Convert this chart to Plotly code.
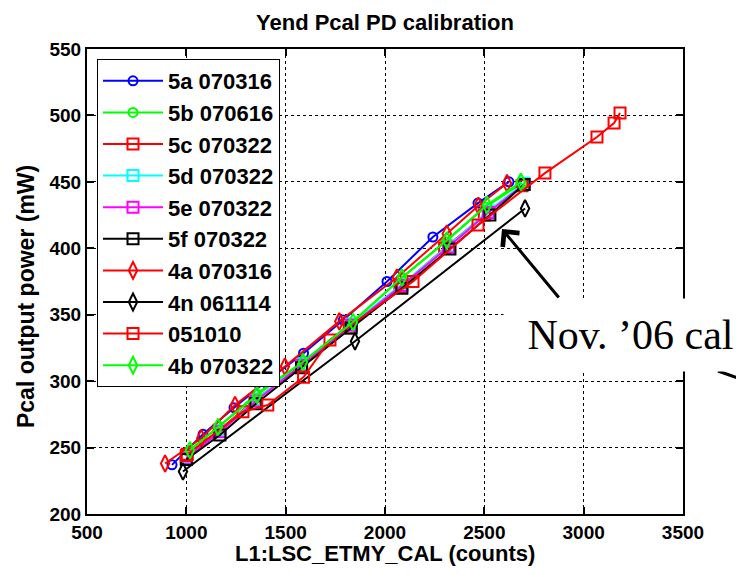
import plotly.graph_objects as go

# ---- data ----
names = ["5a 070316", "5b 070616", "5c 070322", "5d 070322", "5e 070322",
         "5f 070322", "4a 070316", "4n 061114", "051010", "4b 070322"]

x_5a = [928, 1084, 1240, 1370, 1590, 1790, 2010, 2241, 2468, 2624]
y_5a = [237, 260, 280, 296, 321, 346, 375, 408.5, 434, 450]

x_5b = [1010, 1165, 1350, 1590, 1830, 2080, 2305, 2505, 2690]
y_5b = [247, 266, 290, 315, 344, 377, 405, 431, 449]

x_5c = [1005, 1165, 1345, 1580, 1820, 2075, 2300, 2500, 2690]
y_5c = [245, 263, 286, 311, 340, 371, 400, 425, 447]

x_5d = [1000, 1170, 1350, 1580, 1830, 2085, 2320, 2520, 2700]
y_5d = [243, 263, 286, 313, 343, 373, 402, 428, 449]

x_5e = [1000, 1170, 1350, 1580, 1830, 2085, 2320, 2520, 2700]
y_5e = [242, 262, 285, 312, 342, 372, 401, 427, 448]

x_5f = [1000, 1169, 1350, 1580, 1830, 2085, 2327, 2528, 2700]
y_5f = [241, 259.5, 283, 310, 340, 370, 399.5, 425, 448]

x_4a = [893, 1075, 1245, 1496, 1770, 2060, 2311, 2470, 2614]
y_4a = [238, 257, 282, 311, 345, 378, 411, 432, 449]

x_4n = [983, 1849, 2705]
y_4n = [232, 330, 430]

x_051010 = [1000, 1285, 1410, 1590, 1723, 2141, 2468, 2805, 3067, 3153, 3183]
y_051010 = [244, 277, 282, 303, 331, 375, 417.5, 456.6, 483.8, 494.3, 501.8]

x_4b = [1018, 1159, 1356, 1587, 1839, 2085, 2311, 2513, 2684]
y_4b = [248, 265.5, 289.6, 314.4, 344.5, 378, 406, 432.6, 450]

xs = [x_5a, x_5b, x_5c, x_5d, x_5e, x_5f, x_4a, x_4n, x_051010, x_4b]
ys = [y_5a, y_5b, y_5c, y_5d, y_5e, y_5f, y_4a, y_4n, y_051010, y_4b]

colors = ["#0000ff", "#00ff00", "#ff0000", "#00ffff", "#ff00ff",
          "#000000", "#ff0000", "#000000", "#ff0000", "#00ff00"]
symbols = ["circle-open", "circle-open", "square-open", "square-open", "square-open",
           "square-open", "diamond-tall-open", "diamond-tall-open", "square-open",
           "diamond-tall-open"]
sizes = [9, 9, 11, 11, 11, 11, 12, 12, 11, 12]

SANS = "Liberation Sans, Arial, sans-serif"
SERIF = "Liberation Serif, Times New Roman, serif"

fig = go.Figure()
for n, x, y, c, s, sz in zip(names, xs, ys, colors, symbols, sizes):
    fig.add_trace(go.Scatter(
        x=x, y=y, name=n, mode="lines+markers",
        line=dict(color=c, width=2),
        marker=dict(symbol=s, size=sz, color=c, line=dict(color=c, width=2)),
        cliponaxis=True,
    ))

axis_common = dict(
    showline=True, linecolor="black", linewidth=2, mirror="ticks",
    ticks="inside", ticklen=7, tickwidth=2, tickcolor="black",
    showgrid=True, gridcolor="black", gridwidth=1, griddash="dot",
    zeroline=False,
    tickfont=dict(family=SANS, size=19, color="black", weight="bold"),
)

fig.update_xaxes(range=[500, 3500], dtick=500, tick0=500, **axis_common)
fig.update_yaxes(range=[200, 550], dtick=50, tick0=200, **axis_common)

title_font = dict(family=SANS, size=22, color="black", weight="bold")

fig.update_layout(
    width=736, height=575,
    margin=dict(l=87, r=53, t=49, b=61),
    paper_bgcolor="white", plot_bgcolor="white",
    title=dict(text="Yend Pcal PD calibration", x=0.5, xref="paper",
               y=1 - 22 / 575, yanchor="middle",
               font=dict(family=SANS, size=22, color="black", weight="bold")),
    showlegend=True,
    legend=dict(x=0.0168, y=0.9785, xanchor="left", yanchor="top",
                bgcolor="white", bordercolor="black", borderwidth=1,
                font=dict(family=SANS, size=22, color="black", weight="bold"),
                itemwidth=60, tracegroupgap=0),
    annotations=[
        dict(x=0.5, y=-0.085, xref="paper", yref="paper",
             xanchor="center", yanchor="middle", showarrow=False,
             text="L1:LSC_ETMY_CAL (counts)", font=title_font),
        dict(x=-0.1023, y=0.4667, xref="paper", yref="paper",
             xanchor="center", yanchor="middle", showarrow=False, textangle=-90,
             text="Pcal output power (mW)", font=dict(title_font, size=23)),
        dict(x=2589, y=414.5, xref="x", yref="y", text="", showarrow=True,
             ax=58, ay=70, arrowhead=4, arrowsize=1.4, arrowwidth=3,
             arrowcolor="black"),
        dict(x=2594, y=334.4, xref="x", yref="y", xanchor="left", yanchor="middle",
             text="\u00a0Nov. \u201906 cal", showarrow=False,
             font=dict(family=SERIF, size=42, color="black"),
             bgcolor="white", borderpad=13),
    ],
    shapes=[
        dict(type="line", xref="paper", yref="paper",
             x0=1.0587, y0=0.3075, x1=1.0923, y1=0.2925,
             line=dict(color="black", width=3)),
    ],
)

fig.write_html("out.html")
